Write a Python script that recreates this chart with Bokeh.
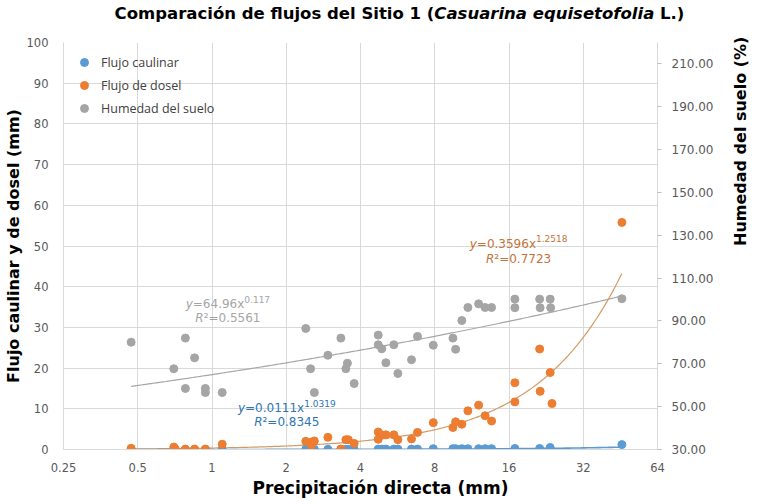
import math
import numpy as np
from bokeh.plotting import figure
from bokeh.models import (Range1d, LinearAxis, FixedTicker, NumeralTickFormatter,
                          Label, Legend, LegendItem, Div, Title)
from bokeh.layouts import column
from bokeh.embed import file_html
from bokeh.resources import INLINE

# ---------------- data ----------------
x_ticks = [0.25, 0.5, 1, 2, 4, 8, 16, 32, 64]
x_tick_labels = ["0.25", "0.5", "1", "2", "4", "8", "16", "32", "64"]
left_ticks = [0, 10, 20, 30, 40, 50, 60, 70, 80, 90, 100]
right_ticks = [30, 50, 70, 90, 110, 130, 150, 170, 190, 210]

# Flujo caulinar (mm)
caulinar_x = [0.47, 0.70, 0.78, 0.85, 0.94, 1.10, 2.40, 2.51, 2.60, 2.95, 3.33, 3.49, 3.57,
              3.77, 4.72, 4.88, 5.07, 5.46, 5.67, 6.44, 6.81, 7.89, 9.48, 9.72, 10.3, 10.9,
              12.05, 12.8, 13.6, 16.9, 21.3, 23.5, 45.9]
caulinar_y = [0.0, 0.0, 0.0, 0.0, 0.0, 0.0, 0.05, 0.05, 0.05, 0.05, 0.05, 0.05, 0.05,
              0.05, 0.1, 0.1, 0.1, 0.1, 0.1, 0.1, 0.1, 0.2, 0.2, 0.2, 0.2, 0.2,
              0.2, 0.2, 0.2, 0.25, 0.25, 0.5, 1.2]

# Flujo de dosel (mm)
dosel_x = [0.47, 0.70, 0.71, 0.78, 0.85, 0.94, 1.10, 2.40, 2.51, 2.53, 2.60, 2.95, 3.33,
           3.49, 3.57, 3.77, 4.72, 4.72, 4.88, 5.07, 5.46, 5.67, 6.44, 6.81, 7.89, 9.48,
           9.72, 10.3, 10.9, 12.05, 12.8, 13.6, 16.9, 16.9, 21.3, 21.4, 23.5, 23.9, 45.9]
dosel_y = [0.3, 0.6, 0.1, 0.1, 0.1, 0.1, 1.3, 2.0, 1.8, 1.1, 2.1, 3.0, 0.1,
           2.4, 2.4, 1.5, 4.3, 2.5, 3.6, 3.6, 3.6, 2.4, 2.6, 4.2, 6.6, 5.4,
           6.8, 6.2, 9.5, 10.9, 8.3, 7.0, 16.4, 11.7, 24.7, 14.3, 18.9, 11.3, 55.8]

# Humedad del suelo (%)
humedad_x = [0.47, 0.70, 0.78, 0.78, 0.85, 0.94, 0.94, 1.10, 2.40, 2.51, 2.60, 2.95, 3.33,
             3.49, 3.54, 3.77, 4.72, 4.72, 4.88, 5.07, 5.46, 5.67, 6.44, 6.81, 7.89, 9.48,
             9.72, 10.3, 10.9, 12.05, 12.8, 13.6, 16.9, 16.9, 21.3, 21.4, 23.5, 23.6, 45.9]
humedad_y = [80.1, 67.7, 82.0, 58.5, 72.8, 58.5, 56.6, 56.6, 86.5, 67.7, 56.6, 74.0, 82.0,
             67.7, 70.3, 60.8, 83.4, 78.9, 77.0, 70.5, 78.9, 65.5, 71.9, 82.8, 78.7, 82.0,
             76.8, 90.2, 96.3, 98.0, 96.3, 96.3, 100.2, 96.2, 100.2, 96.2, 100.2, 96.2, 100.4]

# power trend lines  y = a * x^b
trend_caulinar = (0.0111, 1.0319, "0.0111", "1.0319", "0.8345")
trend_dosel = (0.3596, 1.2518, "0.3596", "1.2518", "0.7723")
trend_humedad = (64.96, 0.117, "64.96", "0.117", "0.5561")

series_names = ["Flujo caulinar", "Flujo de dosel", "Humedad del suelo"]

# ---------------- styles ----------------
BLUE, ORANGE, GRAY = "#5b9bd5", "#ed7d31", "#a5a5a5"
GRID = "#d9d9d9"
TICK_TXT = "#595959"
FONT = "DejaVu Sans"

p = figure(x_axis_type="log", x_range=Range1d(0.25, 64), y_range=Range1d(0, 100),
           frame_width=594, frame_height=407, output_backend="svg",
           toolbar_location=None, title=None,
           min_border_left=57, min_border_right=94, min_border_top=14, min_border_bottom=49)
p.extra_y_ranges = {"hum": Range1d(30, 220)}
p.outline_line_color = None
p.background_fill_color = "white"
p.border_fill_color = "white"

# x axis
xa = p.xaxis[0]
xa.ticker = FixedTicker(ticks=x_ticks)
xa.major_label_overrides = {t: l for t, l in zip(x_ticks, x_tick_labels)}
# left axis
ya = p.yaxis[0]
ya.ticker = FixedTicker(ticks=left_ticks)
ya.axis_label = "Flujo caulinar y de dosel (mm)"
# right axis
ra = LinearAxis(y_range_name="hum", ticker=FixedTicker(ticks=right_ticks),
                formatter=NumeralTickFormatter(format="0.00"),
                axis_label="Humedad del suelo (%)")
try:
    ra.axis_label_orientation = math.pi / 2
except Exception:
    pass
p.add_layout(ra, "right")

for ax in (xa, ya, ra):
    ax.axis_line_color = GRID
    ax.minor_tick_line_color = None
    ax.major_label_text_font = FONT
    ax.major_label_text_color = TICK_TXT
    ax.axis_label_text_font = FONT
    ax.axis_label_text_font_style = "bold"
    ax.axis_label_text_font_size = "16px"
    ax.axis_label_text_color = "black"
for ax in (xa, ya):
    ax.major_tick_line_color = None
    ax.major_tick_out = 0
    ax.major_tick_in = 0
    ax.major_label_text_font_size = "11.5px"
xa.major_label_standoff = 13
ya.major_label_standoff = 15
ya.axis_label_standoff = 1
ra.major_tick_line_color = "#bfbfbf"
ra.major_tick_out = 4
ra.major_tick_in = 0
ra.major_label_standoff = 10
ra.major_label_text_font_size = "12px"
ra.axis_label_standoff = 24

# x axis title, shifted right as in the original
p.add_layout(Title(text="Precipitación directa (mm)", align="left", offset=189,
                   text_font=FONT, text_font_style="bold", text_font_size="17px",
                   text_color="black", standoff=2), "below")

p.xgrid.ticker = FixedTicker(ticks=x_ticks)
p.ygrid.ticker = FixedTicker(ticks=left_ticks)
p.xgrid.grid_line_color = GRID
p.ygrid.grid_line_color = GRID

# ---------------- trend lines ----------------
def trend(xs, params):
    a, b = params[0], params[1]
    tx = np.geomspace(min(xs), max(xs), 200)
    return tx, a * tx ** b

tx, ty = trend(humedad_x, trend_humedad)
p.line(tx, ty, y_range_name="hum", line_color="#a6a6a6", line_width=1.2)
tx, ty = trend(dosel_x, trend_dosel)
p.line(tx, ty, line_color="#d39a66", line_width=1.2)
tx, ty = trend(caulinar_x, trend_caulinar)
p.line(tx, ty, line_color=BLUE, line_width=1.6)

# ---------------- points ----------------
r1 = p.scatter(caulinar_x, caulinar_y, size=8, fill_color=BLUE, line_color=BLUE)
r2 = p.scatter(dosel_x, dosel_y, size=8, fill_color=ORANGE, line_color=ORANGE)
r3 = p.scatter(humedad_x, humedad_y, size=8, fill_color=GRAY, line_color=GRAY, y_range_name="hum")

legend = Legend(items=[LegendItem(label=n, renderers=[r]) for n, r in zip(series_names, (r1, r2, r3))],
                location="top_left", border_line_alpha=0, background_fill_alpha=0,
                margin=0, padding=10, spacing=3, label_height=20, glyph_height=20,
                glyph_width=22, label_standoff=6, label_text_font="Open Sans",
                label_text_font_size="12.5px", label_text_color="#404040")
p.add_layout(legend)

# ---------------- equations ----------------
ADV = {"0": 1303, "1": 1303, "2": 1303, "3": 1303, "4": 1303, "5": 1303, "6": 1303,
       "7": 1303, "8": 1303, "9": 1303, ".": 651, "=": 1716, "x": 1212, "y": 1212,
       "R": 1423, "²": 821}

def tw(s, size):
    return sum(ADV[c] for c in s) / 2048 * size

def pieces(cx, cy, parts, color):
    total = sum(tw(t, sz) for t, sz, st, up in parts)
    off = -total / 2
    for t, sz, st, up in parts:
        p.add_layout(Label(x=cx, y=cy, x_offset=off, y_offset=up, text=t,
                           text_font=FONT, text_font_size=f"{sz}px", text_font_style=st,
                           text_color=color, text_align="left", text_baseline="middle"))
        off += tw(t, sz)

def equation(cx, cy1, cy2, params, color):
    _, _, a_txt, b_txt, r2_txt = params
    pieces(cx, cy1, [("y", 12, "italic", 0), ("=" + a_txt + "x", 12, "normal", 0),
                     (b_txt, 9, "normal", 5)], color)
    pieces(cx, cy2, [("R", 12, "italic", 0), ("²=" + r2_txt, 12, "normal", 0)], color)

equation(1.16, 35.7, 32.3, trend_humedad, "#a5a5a5")
equation(2.01, 10.1, 6.65, trend_caulinar, "#2e75b6")
equation(17.5, 50.5, 46.8, trend_dosel, "#c4733a")

# ---------------- title ----------------
title_div = Div(
    text='<div style="width:705px;margin-left:42px;text-align:center;white-space:nowrap;'
         'font-family:\'DejaVu Sans\';font-weight:bold;font-size:16.5px;line-height:17px;color:black">'
         'Comparación de flujos del Sitio 1 (<i>Casuarina equisetofolia</i> L.)</div>',
    width=745, height=18)

layout = column(title_div, p, spacing=0)
open("out.html", "w").write(file_html(layout, INLINE))
